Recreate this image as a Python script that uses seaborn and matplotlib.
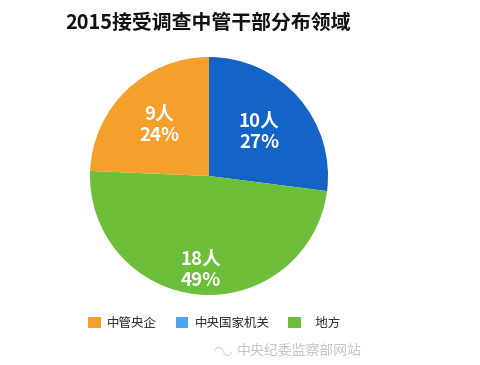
import numpy as np
import seaborn as sns
import matplotlib.pyplot as plt
from matplotlib.patches import Patch

sns.set_theme(style='white')
plt.rcParams['font.family'] = ['Noto Sans CJK SC', 'DejaVu Sans']

title = '2015接受调查中管干部分布领域'
categories = ['中央国家机关', '地方', '中管央企']
counts = [10, 18, 9]
pie_colors = ['#1463C6', '#6DBE38', '#F5A02C']
legend_order = ['中管央企', '中央国家机关', '   地方']
legend_colors = ['#F5A02C', '#4EA5F4', '#6DBE38']
# how far out each label sits (fraction of radius)
label_r = [0.56, 0.79, 0.60]

fig = plt.figure(figsize=(4.81, 3.65), dpi=100)
fig.patch.set_facecolor('white')

W, H = 481, 365
cx, cy, r = 209, 176, 119
ax = fig.add_axes([(cx - r) / W, (H - cy - r) / H, 2 * r / W, 2 * r / H])
wedges, _ = ax.pie(counts, colors=pie_colors, startangle=90, counterclock=False,
                   radius=1, wedgeprops=dict(linewidth=0))
ax.set_xlim(-1, 1)
ax.set_ylim(-1, 1)
ax.set_aspect('equal')
ax.axis('off')

total = sum(counts)
for w, n, lr in zip(wedges, counts, label_r):
    ang = np.deg2rad((w.theta1 + w.theta2) / 2)
    pct = round(n / total * 100)
    ax.text(lr * np.cos(ang), lr * np.sin(ang), f'{n}人\n{pct}%',
            ha='center', va='center', color='white', fontsize=13.5,
            fontweight='bold', linespacing=1.2)

fig.text(65 / W, 1 - 22 / H, title, ha='left', va='center',
         fontsize=14.3, fontweight='bold', color='#111111')

handles = [Patch(facecolor=c, edgecolor='none') for c in legend_colors]
fig.legend(handles, legend_order, loc='center left', bbox_to_anchor=(77 / W, 1 - 323 / H),
           ncol=3, frameon=False, fontsize=9, handlelength=1.0, handleheight=1.0,
           handletextpad=0.5, columnspacing=1.5)

fig.text(237 / W, 1 - 351 / H, '中央纪委监察部网站', ha='left', va='center',
         fontsize=10, color='#C4C4C4')
fig.text(213 / W, 1 - 350 / H, '◠◡', ha='left', va='center',
         fontsize=8, color='#C4C4C4', family=['DejaVu Sans'])

fig.savefig('out.png', dpi=100, facecolor='white')
